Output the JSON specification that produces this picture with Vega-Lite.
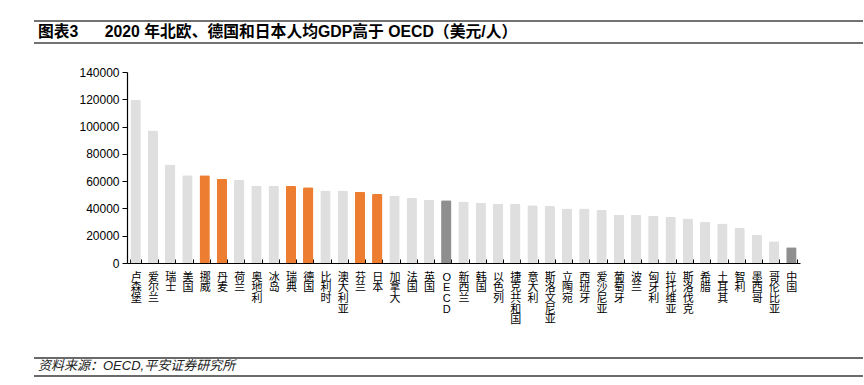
{
  "$schema": "https://vega.github.io/schema/vega-lite/v6.json",
  "autosize": {"type": "pad"},
  "padding": {"left": 33, "top": 20, "right": 0, "bottom": 0},
  "background": "white",
  "bounds": "flush",
  "spacing": 29,
  "config": {
    "view": {"stroke": null},
    "font": "Liberation Sans, Noto Sans CJK SC"
  },
  "vconcat": [
    {
      "width": 829,
      "height": 22,
      "view": {"stroke": "#444", "strokeWidth": 1.5, "strokeDash": [829, 22]},
      "data": {"values": [{}]},
      "mark": {"type": "point", "opacity": 0},
      "encoding": {}
    },
    {
      "width": 829,
      "height": 191,
      "title": {
        "text": "图表3\u00a0\u00a0\u00a0\u00a0\u00a0\u00a02020 年北欧、德国和日本人均GDP高于 OECD（美元/人）",
        "orient": "top",
        "anchor": "start",
        "frame": "group",
        "offset": 25,
        "dx": 4,
        "fontSize": 15.8,
        "fontWeight": "bold",
        "font": "Liberation Sans, Noto Sans CJK SC",
        "color": "#000"
      },
      "data": {
        "values": [
          {"country": "卢森堡", "gdp": 119700, "group": "其他"},
          {"country": "爱尔兰", "gdp": 97100, "group": "其他"},
          {"country": "瑞士", "gdp": 72200, "group": "其他"},
          {"country": "美国", "gdp": 64400, "group": "其他"},
          {"country": "挪威", "gdp": 64300, "group": "北欧德日"},
          {"country": "丹麦", "gdp": 61800, "group": "北欧德日"},
          {"country": "荷兰", "gdp": 60900, "group": "其他"},
          {"country": "奥地利", "gdp": 56600, "group": "其他"},
          {"country": "冰岛", "gdp": 56600, "group": "其他"},
          {"country": "瑞典", "gdp": 56500, "group": "北欧德日"},
          {"country": "德国", "gdp": 55600, "group": "北欧德日"},
          {"country": "比利时", "gdp": 53200, "group": "其他"},
          {"country": "澳大利亚", "gdp": 53100, "group": "其他"},
          {"country": "芬兰", "gdp": 52200, "group": "北欧德日"},
          {"country": "日本", "gdp": 50500, "group": "北欧德日"},
          {"country": "加拿大", "gdp": 49500, "group": "其他"},
          {"country": "法国", "gdp": 47800, "group": "其他"},
          {"country": "英国", "gdp": 46100, "group": "其他"},
          {"country": "OECD", "gdp": 46000, "group": "OECD与中国"},
          {"country": "新西兰", "gdp": 45100, "group": "其他"},
          {"country": "韩国", "gdp": 44100, "group": "其他"},
          {"country": "以色列", "gdp": 43400, "group": "其他"},
          {"country": "捷克共和国", "gdp": 43300, "group": "其他"},
          {"country": "意大利", "gdp": 42400, "group": "其他"},
          {"country": "斯洛文尼亚", "gdp": 41700, "group": "其他"},
          {"country": "立陶宛", "gdp": 40000, "group": "其他"},
          {"country": "西班牙", "gdp": 40000, "group": "其他"},
          {"country": "爱沙尼亚", "gdp": 38800, "group": "其他"},
          {"country": "葡萄牙", "gdp": 35400, "group": "其他"},
          {"country": "波兰", "gdp": 35400, "group": "其他"},
          {"country": "匈牙利", "gdp": 34600, "group": "其他"},
          {"country": "拉托维亚", "gdp": 33700, "group": "其他"},
          {"country": "斯洛伐克", "gdp": 32700, "group": "其他"},
          {"country": "希腊", "gdp": 30000, "group": "其他"},
          {"country": "土耳其", "gdp": 29000, "group": "其他"},
          {"country": "智利", "gdp": 25600, "group": "其他"},
          {"country": "墨西哥", "gdp": 20500, "group": "其他"},
          {"country": "哥伦比亚", "gdp": 15900, "group": "其他"},
          {"country": "中国", "gdp": 11500, "group": "OECD与中国"}
        ]
      },
      "mark": {"type": "bar", "cornerRadiusTopLeft": 1.5, "cornerRadiusTopRight": 1.5},
      "encoding": {
        "x": {
          "field": "country",
          "type": "nominal",
          "sort": null,
          "scale": {"range": [93, 766], "paddingInner": 0.4, "paddingOuter": 0.2},
          "axis": {
            "title": null,
            "labelAngle": 0,
            "labelExpr": "split(datum.label, '')",
            "labelFont": "Liberation Sans, Noto Sans CJK SC",
            "labelFontSize": 11,
            "labelLineHeight": 10.7,
            "labelBaseline": "top",
            "labelAlign": "center",
            "labelPadding": 12,
            "labelOverlap": false,
            "labelBound": false,
            "labelColor": "#000",
            "tickBand": "extent",
            "tickSize": -4,
            "tickColor": "#000",
            "domainColor": "#000",
            "domainWidth": 1.2
          }
        },
        "y": {
          "field": "gdp",
          "type": "quantitative",
          "scale": {"domain": [0, 140000], "nice": false},
          "axis": {
            "title": null,
            "values": [0, 20000, 40000, 60000, 80000, 100000, 120000, 140000],
            "format": "d",
            "offset": -93,
            "grid": false,
            "labelFont": "Liberation Sans",
            "labelFontSize": 12,
            "labelColor": "#000",
            "labelPadding": 3,
            "tickSize": 5,
            "tickColor": "#000",
            "domainColor": "#000",
            "domainWidth": 1.2
          }
        },
        "color": {
          "field": "group",
          "type": "nominal",
          "scale": {"domain": ["其他", "北欧德日", "OECD与中国"], "range": ["#DFDFDF", "#ED7D31", "#8F8F8F"]},
          "legend": null
        }
      }
    },
    {
      "width": 829,
      "height": 37,
      "title": {
        "text": "资料来源：OECD,平安证券研究所",
        "orient": "bottom",
        "anchor": "start",
        "frame": "group",
        "offset": 31,
        "dx": 4,
        "fontSize": 13,
        "fontStyle": "italic",
        "fontWeight": "normal",
        "font": "Liberation Sans, Noto Sans CJK SC",
        "color": "#222"
      },
      "data": {"values": [{}]},
      "mark": {"type": "point", "opacity": 0},
      "encoding": {}
    },
    {
      "width": 829,
      "height": 18,
      "view": {"stroke": "#3a3a3a", "strokeWidth": 1.5, "strokeDash": [829, 18]},
      "data": {"values": [{}]},
      "mark": {"type": "point", "opacity": 0},
      "encoding": {}
    }
  ]
}
